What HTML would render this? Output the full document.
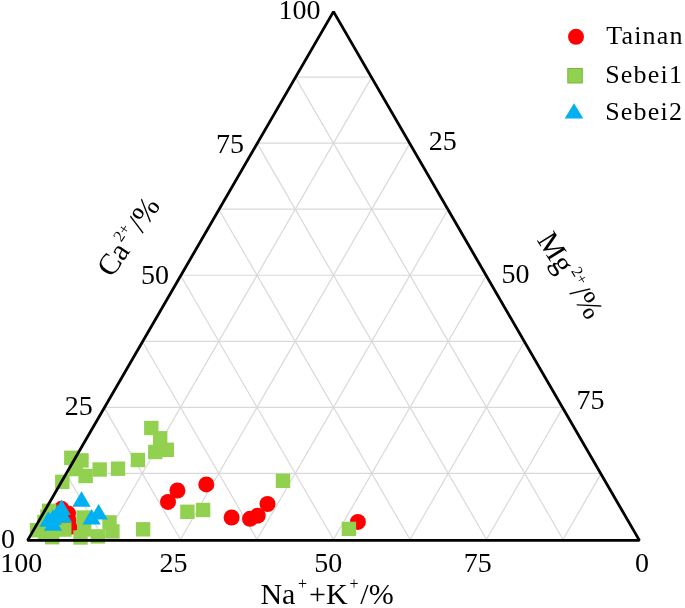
<!DOCTYPE html>
<html><head><meta charset="utf-8"><title>Ternary diagram</title>
<style>
html,body{margin:0;padding:0;background:#fff;}
svg{display:block;}
text{font-family:"Liberation Serif","Times New Roman",serif;fill:#000;}
</style></head><body>
<svg width="685" height="608" viewBox="0 0 685 608">
<rect width="685" height="608" fill="#fff"/>
<g stroke="#d9d9d9" stroke-width="1.2" fill="none">
<line x1="65.75" y1="473.4" x2="601.25" y2="473.4"/>
<line x1="104" y1="539.45" x2="371.75" y2="77.1"/>
<line x1="104" y1="539.45" x2="65.75" y2="473.4"/>
<line x1="104" y1="407.35" x2="563" y2="407.35"/>
<line x1="180.5" y1="539.45" x2="410" y2="143.15"/>
<line x1="180.5" y1="539.45" x2="104" y2="407.35"/>
<line x1="142.25" y1="341.3" x2="524.75" y2="341.3"/>
<line x1="257" y1="539.45" x2="448.25" y2="209.2"/>
<line x1="257" y1="539.45" x2="142.25" y2="341.3"/>
<line x1="180.5" y1="275.25" x2="486.5" y2="275.25"/>
<line x1="333.5" y1="539.45" x2="486.5" y2="275.25"/>
<line x1="333.5" y1="539.45" x2="180.5" y2="275.25"/>
<line x1="218.75" y1="209.2" x2="448.25" y2="209.2"/>
<line x1="410" y1="539.45" x2="524.75" y2="341.3"/>
<line x1="410" y1="539.45" x2="218.75" y2="209.2"/>
<line x1="257" y1="143.15" x2="410" y2="143.15"/>
<line x1="486.5" y1="539.45" x2="563" y2="407.35"/>
<line x1="486.5" y1="539.45" x2="257" y2="143.15"/>
<line x1="295.25" y1="77.1" x2="371.75" y2="77.1"/>
<line x1="563" y1="539.45" x2="601.25" y2="473.4"/>
<line x1="563" y1="539.45" x2="295.25" y2="77.1"/>
</g>
<g fill="#ff0000">
<circle cx="177.4" cy="490.5" r="8"/>
<circle cx="168" cy="501.9" r="8"/>
<circle cx="206.3" cy="484.4" r="8"/>
<circle cx="231.6" cy="517.5" r="8"/>
<circle cx="250" cy="518.8" r="8"/>
<circle cx="257.7" cy="515.7" r="8"/>
<circle cx="267.5" cy="504" r="8"/>
<circle cx="357.9" cy="521.9" r="8"/>
<circle cx="61.5" cy="508.8" r="8"/>
<circle cx="68" cy="513.5" r="8"/>
<circle cx="68.5" cy="520.5" r="8"/>
<circle cx="69.5" cy="527" r="8"/>
</g>
<g fill="#92d050">
<rect x="144.1" y="420.8" width="14.4" height="14.4"/>
<rect x="153" y="431.1" width="14.4" height="14.4"/>
<rect x="148.1" y="444.8" width="14.4" height="14.4"/>
<rect x="159.6" y="442.6" width="14.4" height="14.4"/>
<rect x="130.7" y="452.8" width="14.4" height="14.4"/>
<rect x="64.1" y="450.6" width="14.4" height="14.4"/>
<rect x="74.3" y="453.2" width="14.4" height="14.4"/>
<rect x="92.5" y="462.3" width="14.4" height="14.4"/>
<rect x="110.8" y="461.5" width="14.4" height="14.4"/>
<rect x="68.6" y="461.9" width="14.4" height="14.4"/>
<rect x="78.4" y="468.8" width="14.4" height="14.4"/>
<rect x="55.1" y="474.6" width="14.4" height="14.4"/>
<rect x="135.9" y="522.1" width="14.4" height="14.4"/>
<rect x="180.2" y="504.6" width="14.4" height="14.4"/>
<rect x="195.9" y="502.8" width="14.4" height="14.4"/>
<rect x="275.8" y="473.6" width="14.4" height="14.4"/>
<rect x="341.7" y="521.7" width="14.4" height="14.4"/>
<rect x="41.9" y="503.6" width="14.4" height="14.4"/>
<rect x="40.2" y="509.4" width="14.4" height="14.4"/>
<rect x="37.3" y="514.8" width="14.4" height="14.4"/>
<rect x="29.9" y="523" width="14.4" height="14.4"/>
<rect x="45" y="530" width="14.4" height="14.4"/>
<rect x="57.1" y="522.4" width="14.4" height="14.4"/>
<rect x="37.7" y="525.1" width="14.4" height="14.4"/>
<rect x="76.3" y="510.3" width="14.4" height="14.4"/>
<rect x="77" y="522.2" width="14.4" height="14.4"/>
<rect x="73.3" y="530.3" width="14.4" height="14.4"/>
<rect x="90.6" y="529.2" width="14.4" height="14.4"/>
<rect x="102.3" y="515.2" width="14.4" height="14.4"/>
<rect x="105.2" y="524.2" width="14.4" height="14.4"/>
</g>
<g fill="#00b0f0">
<path d="M61.6 499.5L70.75 515L52.45 515Z"/>
<path d="M57.5 505L66.65 520.5L48.35 520.5Z"/>
<path d="M53 509.3L62.15 524.8L43.85 524.8Z"/>
<path d="M48.4 511.2L57.55 526.7L39.25 526.7Z"/>
<path d="M53 515.2L62.15 530.7L43.85 530.7Z"/>
<path d="M63 507L72.15 522.5L53.85 522.5Z"/>
<path d="M81.5 491.2L90.65 506.7L72.35 506.7Z"/>
<path d="M91.6 509L100.75 524.5L82.45 524.5Z"/>
<path d="M98.6 504.1L107.75 519.6L89.45 519.6Z"/>
</g>
<path d="M27.6 540.4L333.5 11.6L639.4 540.4Z" fill="none" stroke="#000" stroke-width="2.8" stroke-linejoin="bevel"/>
<g font-size="28">
<text x="278.5" y="19.2">100</text>
<text x="216" y="152.6">75</text>
<text x="141.1" y="283.8">50</text>
<text x="64.8" y="415">25</text>
<text x="1" y="548.1">0</text>
<text x="428.7" y="149.7">25</text>
<text x="501.6" y="283.4">50</text>
<text x="576.6" y="409">75</text>
<text x="0.2" y="572.1">100</text>
<text x="159.5" y="572.1">25</text>
<text x="314.2" y="572.1">50</text>
<text x="463.8" y="572.1">75</text>
<text x="634.9" y="572.1">0</text>
</g>
<g font-size="30">
<text x="260.4" y="603.6">Na</text><text x="298" y="589.2" font-size="16">+</text><text x="309" y="603.6">+K</text><text x="349.6" y="589.2" font-size="16">+</text><text x="360.3" y="603.6">/%</text>
</g>
<g font-size="30" transform="translate(112 278.5) rotate(-56)">
<text x="0" y="0">Ca</text><text x="35" y="-12.5" font-size="16">2+</text><text x="54.4" y="0">/%</text>
</g>
<g font-size="30" transform="translate(536.5 240) rotate(58)">
<text x="0" y="0">Mg</text><text x="44.5" y="-12.5" font-size="16">2+</text><text x="62.5" y="0">/%</text>
</g>
<g font-size="28">
<circle cx="576" cy="36.8" r="8" fill="#ff0000"/>
<text x="606.2" y="43.7" font-size="26" letter-spacing="1.2">Tainan</text>
<rect x="567.8" y="68.5" width="14.5" height="14.5" fill="#92d050" stroke="#76b743" stroke-width="1"/>
<text x="605.2" y="83" font-size="26" letter-spacing="1.2">Sebei1</text>
<path d="M574 103.3L583.3 118.6L564.7 118.6Z" fill="#00b0f0"/>
<text x="605.2" y="120" font-size="26" letter-spacing="1.2">Sebei2</text>
</g>
</svg>
</body></html>
